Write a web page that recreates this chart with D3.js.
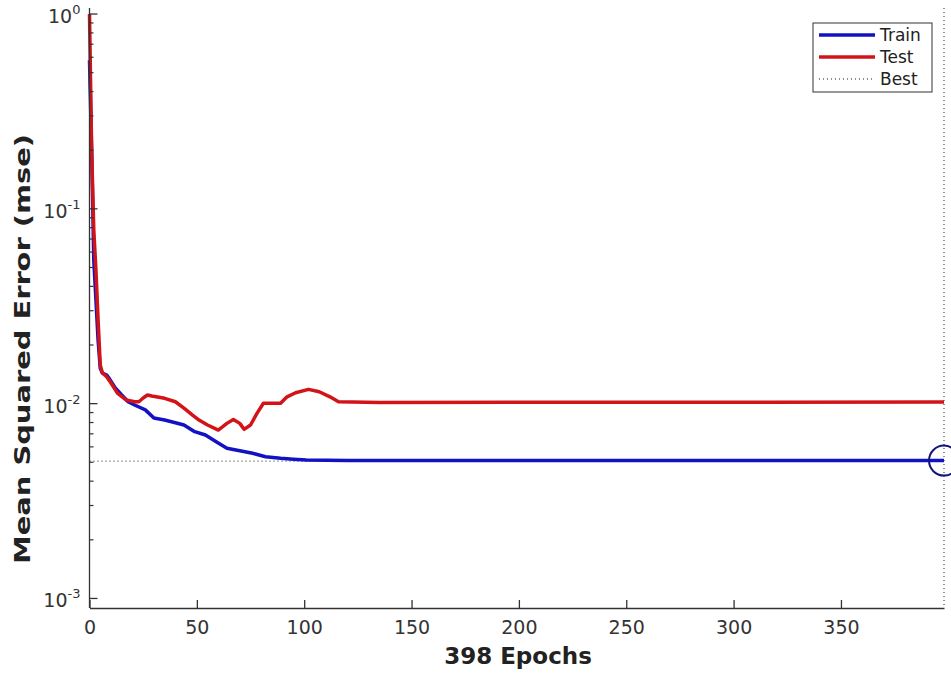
<!DOCTYPE html>
<html>
<head>
<meta charset="utf-8">
<script src="https://cdn.jsdelivr.net/npm/d3@7"></script>
<style>
  body { margin: 0; background: #fff; }
  svg { display: block; font-family: "DejaVu Sans", sans-serif; }
</style>
</head>
<body>
<svg id="chart" width="951" height="675"></svg>
<script>
// ---- data ----
const trainEpochs = [0, 1, 2, 3, 4, 5, 6, 8, 9, 12, 15, 18, 21, 26, 30, 35, 40, 44, 49, 54, 59, 64, 70, 76, 82, 89, 95, 101, 120, 398];
const trainMse    = [0.58, 0.20, 0.0546, 0.034, 0.0212, 0.0152, 0.01436, 0.01402, 0.01356, 0.01203, 0.01107, 0.01023, 0.00984, 0.00929, 0.00844, 0.00824, 0.00798, 0.00777, 0.00718, 0.00690, 0.00637, 0.00590, 0.00573, 0.00556, 0.00534, 0.00524, 0.00518, 0.00513, 0.00511, 0.0051];

const testEpochs = [0, 1, 2, 3, 4, 5, 6, 8, 10, 13, 17, 21, 23, 25, 27, 29, 35, 40, 44, 48, 51, 55, 60, 64, 67, 70, 72, 75, 78, 81, 85, 89, 92, 96, 102, 107, 112, 116, 135, 398];
const testMse    = [1.0, 0.200, 0.0778, 0.0485, 0.0269, 0.0158, 0.01436, 0.01374, 0.01276, 0.01133, 0.01044, 0.01023, 0.01023, 0.01069, 0.01107, 0.01094, 0.01065, 0.01023, 0.00949, 0.00873, 0.00824, 0.00777, 0.00732, 0.00792, 0.00830, 0.00792, 0.00738, 0.00777, 0.00891, 0.01004, 0.01004, 0.01004, 0.01084, 0.01138, 0.01184, 0.01151, 0.01084, 0.01023, 0.01014, 0.0102];

const bestEpoch = 398;
const bestMse = 0.00507;
const xTicks = [0, 50, 100, 150, 200, 250, 300, 350];
const yTickExps = [0, -1, -2, -3];
const legendLabels = ["Train", "Test", "Best"];
const xLabel = "398 Epochs";
const yLabel = "Mean Squared Error  (mse)";

// ---- layout ----
const svg = d3.select("#chart");
const pLeft = 89.5, pRight = 944, pTop = 8, pBottom = 608;

const x = d3.scaleLinear().domain([0, 398]).range([pLeft, pRight]);
const y = d3.scaleLog().domain([Math.pow(10, -3.049), Math.pow(10, 0.031)]).range([pBottom, pTop]);

const blue = "#1212c4", red = "#d21418", navy = "#14147e", axisCol = "#333";

// best dotted lines
svg.append("line").attr("x1", x(0)).attr("x2", x(bestEpoch)).attr("y1", y(bestMse)).attr("y2", y(bestMse))
  .attr("stroke", "#222").attr("stroke-width", 1).attr("stroke-dasharray", "1,3");
svg.append("line").attr("x1", x(bestEpoch)).attr("x2", x(bestEpoch)).attr("y1", pTop).attr("y2", pBottom)
  .attr("stroke", "#222").attr("stroke-width", 1).attr("stroke-dasharray", "1,3");

// series
const line = d3.line().x(d => x(d[0])).y(d => y(d[1]));
svg.append("path").datum(trainEpochs.map((e, i) => [e, trainMse[i]]))
  .attr("d", line).attr("fill", "none").attr("stroke", blue).attr("stroke-width", 3.5)
  .attr("stroke-linejoin", "round");
svg.append("path").datum(testEpochs.map((e, i) => [e, testMse[i]]))
  .attr("d", line).attr("fill", "none").attr("stroke", red).attr("stroke-width", 3.5)
  .attr("stroke-linejoin", "round");

// best marker circle
svg.append("circle").attr("cx", x(bestEpoch)).attr("cy", y(trainMse[trainMse.length - 1]))
  .attr("r", 15).attr("fill", "none").attr("stroke", navy).attr("stroke-width", 2);

// axes
const xAxis = d3.axisBottom(x).tickValues(xTicks).tickSizeInner(-8).tickSizeOuter(0).tickPadding(13);
const gx = svg.append("g").attr("transform", `translate(0,${pBottom})`).call(xAxis);
gx.select(".domain").attr("stroke", axisCol).attr("stroke-width", 1.3);
gx.selectAll(".tick line").attr("stroke", axisCol).attr("stroke-width", 1.3);
gx.selectAll(".tick text").attr("font-size", 19).attr("fill", "#333").attr("font-family", "DejaVu Sans");

// y axis with log minor ticks
const yMajor = yTickExps.map(e => Math.pow(10, e));
const yMinor = [];
for (let e = -3; e < 0; e++) for (let k = 2; k <= 9; k++) yMinor.push(k * Math.pow(10, e));
const gy = svg.append("g").attr("transform", `translate(${pLeft},0)`);
gy.append("line").attr("x1", 0).attr("x2", 0).attr("y1", pTop).attr("y2", pBottom)
  .attr("stroke", axisCol).attr("stroke-width", 1.3);
gy.selectAll("line.minor").data(yMinor).enter().append("line").attr("class", "minor")
  .attr("x1", 0).attr("x2", 4).attr("y1", d => y(d)).attr("y2", d => y(d))
  .attr("stroke", axisCol).attr("stroke-width", 1.2);
gy.selectAll("line.major").data(yMajor).enter().append("line").attr("class", "major")
  .attr("x1", 0).attr("x2", 8).attr("y1", d => y(d)).attr("y2", d => y(d))
  .attr("stroke", axisCol).attr("stroke-width", 1.3);
const yl = gy.selectAll("text.ylab").data(yTickExps).enter().append("text").attr("class", "ylab")
  .attr("x", -9).attr("y", e => y(Math.pow(10, e)) + 9).attr("text-anchor", "end")
  .attr("font-size", 19).attr("fill", "#333");
yl.append("tspan").text("10");
yl.append("tspan").attr("dy", -9).attr("font-size", 13).text(e => String(e));

// axis labels
svg.append("text").attr("x", 518).attr("y", 664).attr("text-anchor", "middle")
  .attr("font-size", 23).attr("font-weight", "bold").attr("fill", "#222").text(xLabel);
svg.append("text").attr("transform", "translate(30,349) rotate(-90)").attr("text-anchor", "middle")
  .attr("font-size", 22).attr("font-weight", "bold").attr("fill", "#222")
  .attr("textLength", 430).attr("lengthAdjust", "spacingAndGlyphs").text(yLabel);

// legend
const lg = svg.append("g");
lg.append("rect").attr("x", 813).attr("y", 23).attr("width", 119).attr("height", 69)
  .attr("fill", "#fff").attr("stroke", "#333").attr("stroke-width", 1);
const styles = [
  { stroke: blue, width: 3.5, dash: null },
  { stroke: red, width: 3.5, dash: null },
  { stroke: "#222", width: 1, dash: "1,3" }
];
legendLabels.forEach((lab, i) => {
  const yy = 35 + i * 22;
  const l = lg.append("line").attr("x1", 819).attr("x2", 875).attr("y1", yy).attr("y2", yy)
    .attr("stroke", styles[i].stroke).attr("stroke-width", styles[i].width);
  if (styles[i].dash) l.attr("stroke-dasharray", styles[i].dash);
  lg.append("text").attr("x", 880).attr("y", yy + 6).attr("font-size", 17).attr("fill", "#222").text(lab);
});
</script>
</body>
</html>
